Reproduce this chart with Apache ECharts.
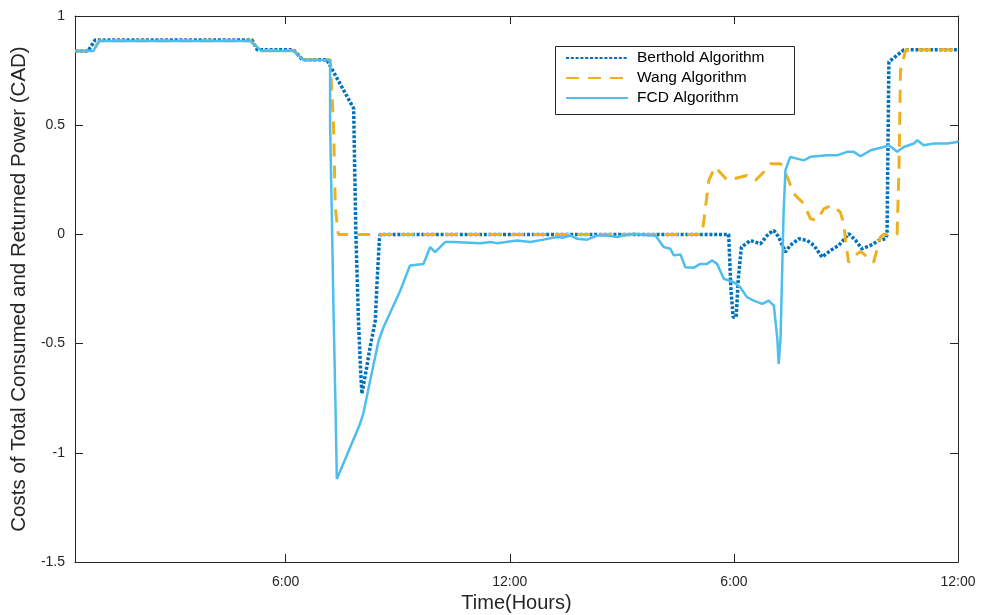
<!DOCTYPE html>
<html><head><meta charset="utf-8">
<script src="https://cdn.jsdelivr.net/npm/echarts@6/dist/echarts.min.js"></script>
<style>html,body{margin:0;padding:0;background:#fff}#c{width:984px;height:615px}</style>
</head><body><div id="c"></div>
<script>
// x in hours after 12:00 (noon), y in CAD
const seriesNames = ['Berthold Algorithm', 'Wang Algorithm', 'FCD Algorithm'];
const xTickValues = [6, 12, 18, 24];
const xTickLabels = ['6:00', '12:00', '6:00', '12:00'];
const yTickLabels = ['-1.5', '-1', '-0.5', '0', '0.5', '1'];
const xTitle = 'Time(Hours)';
const yTitle = 'Costs of Total Consumed and Returned Power (CAD)';

const berthold = [
  [0.36,0.84],[0.71,0.84],[0.9,0.89],[5.1,0.89],[5.24,0.845],[6.21,0.845],[6.45,0.80],[7.1,0.80],
  [7.82,0.577],[7.88,0.0],[7.95,-0.4],[8.0,-0.6],[8.04,-0.73],[8.17,-0.609],[8.26,-0.517],[8.4,-0.394],
  [8.44,-0.242],[8.51,-0.02],[8.53,0],[17.86,0],[17.92,-0.25],[17.98,-0.379],[18.06,-0.379],[18.12,-0.2],
  [18.2,-0.058],[18.44,-0.028],[18.71,-0.043],[18.93,0.003],[19.07,0.018],[19.2,-0.012],[19.38,-0.081],
  [19.51,-0.05],[19.74,-0.02],[19.96,-0.028],[20.14,-0.05],[20.36,-0.104],[20.59,-0.073],[20.81,-0.05],
  [21.08,0.003],[21.26,-0.028],[21.43,-0.066],[21.66,-0.05],[21.88,-0.028],[22.06,-0.02],[22.1,0],
  [22.15,0.79],[22.55,0.845],[24,0.845]
];
const wang = [
  [0.36,0.84],[0.85,0.84],[1.01,0.887],[5.05,0.887],[5.36,0.842],[6.21,0.842],[6.48,0.80],[7.19,0.80],
  [7.28,0.51],[7.33,0.12],[7.41,0],[17.15,0],[17.33,0.248],[17.5,0.309],[17.82,0.248],[18.0,0.255],
  [18.35,0.27],[18.58,0.248],[18.8,0.286],[18.98,0.324],[19.25,0.324],[19.43,0.263],[19.6,0.187],
  [19.87,0.141],[20.05,0.072],[20.23,0.064],[20.41,0.118],[20.63,0.133],[20.85,0.102],[20.94,0.049],
  [20.99,-0.028],[21.07,-0.128],[21.22,-0.1],[21.39,-0.078],[21.55,-0.1],[21.74,-0.128],[21.92,-0.014],
  [22.01,0],[22.37,0],[22.42,0.3],[22.46,0.75],[22.6,0.845],[24,0.845]
];
const fcd = [
  [0.36,0.84],[0.85,0.84],[1.01,0.885],[5.05,0.885],[5.36,0.84],[6.21,0.84],[6.48,0.798],[7.19,0.798],
  [7.19,0.5],[7.24,0.5],[7.24,0.05],[7.28,0.05],[7.28,-0.34],[7.33,-0.34],[7.33,-0.75],[7.37,-0.75],
  [7.37,-1.12],[7.99,-0.868],[8.08,-0.82],[8.26,-0.67],[8.49,-0.486],[8.62,-0.425],[9.07,-0.257],
  [9.33,-0.142],[9.69,-0.135],[9.87,-0.058],[10.0,-0.081],[10.27,-0.035],[10.49,-0.035],[11.21,-0.04],
  [11.48,-0.035],[11.66,-0.04],[12.19,-0.028],[12.55,-0.035],[12.9,-0.024],[13.26,-0.012],[13.44,-0.015],
  [13.62,-0.005],[13.8,-0.02],[14.07,-0.024],[14.34,-0.005],[14.6,-0.005],[14.87,-0.012],[15.05,-0.005],
  [15.32,0.003],[15.76,-0.005],[15.9,-0.005],[16.12,-0.058],[16.3,-0.066],[16.39,-0.096],[16.57,-0.092],
  [16.7,-0.15],[16.92,-0.153],[17.1,-0.135],[17.28,-0.135],[17.42,-0.119],[17.55,-0.135],[17.73,-0.203],
  [18.0,-0.219],[18.17,-0.242],[18.35,-0.287],[18.53,-0.303],[18.76,-0.318],[18.93,-0.303],[19.07,-0.326],
  [19.16,-0.471],[19.2,-0.593],[19.25,-0.471],[19.33,0.095],[19.38,0.294],[19.51,0.355],[19.69,0.347],
  [19.87,0.339],[20.05,0.355],[20.5,0.362],[20.76,0.362],[21.03,0.378],[21.21,0.378],[21.39,0.358],
  [21.66,0.385],[22.01,0.40],[22.15,0.408],[22.37,0.378],[22.55,0.40],[22.82,0.416],[22.91,0.431],
  [23.08,0.408],[23.35,0.416],[23.71,0.416],[23.98,0.423],[24,0.43]
];

const FONT = "'Liberation Sans', Arial, Helvetica, sans-serif";
const AX = '#262626';
const chart = echarts.init(document.getElementById('c'), null, {renderer: 'canvas'});
const labelMap = {};
xTickValues.forEach((v, i) => labelMap[v] = xTickLabels[i]);

const commonX = {
  type: 'value', min: 0.36, max: 24,
  axisLine: {show: true, onZero: false, lineStyle: {color: AX, width: 1}},
  splitLine: {show: false},
};
const commonY = {
  type: 'value', min: -1.5, max: 1, interval: 0.5,
  axisLine: {show: true, onZero: false, lineStyle: {color: AX, width: 1}},
  splitLine: {show: false},
};

chart.setOption({
  animation: false,
  backgroundColor: '#ffffff',
  grid: {left: 75, right: 26, top: 16, bottom: 53, containLabel: false, outerBoundsMode: 'none'},
  xAxis: [
    Object.assign({}, commonX, {
      position: 'bottom',
      name: xTitle, nameLocation: 'middle', nameGap: 31,
      nameTextStyle: {fontFamily: FONT, fontSize: 20, color: AX},
      axisTick: {show: true, inside: true, length: 8, customValues: xTickValues, lineStyle: {color: AX}},
      axisLabel: {show: true, customValues: xTickValues, margin: 13, fontFamily: FONT, fontSize: 14, color: AX,
        formatter: v => labelMap[v] !== undefined ? labelMap[v] : ''}
    }),
    Object.assign({}, commonX, {
      position: 'top',
      axisTick: {show: true, inside: true, length: 8, customValues: xTickValues, lineStyle: {color: AX}},
      axisLabel: {show: false}
    })
  ],
  yAxis: [
    Object.assign({}, commonY, {
      position: 'left',
      name: yTitle, nameLocation: 'middle', nameGap: 45,
      nameTextStyle: {fontFamily: FONT, fontSize: 20.5, color: AX},
      axisTick: {show: true, inside: true, length: 8, lineStyle: {color: AX}},
      axisLabel: {show: true, margin: 10, fontFamily: FONT, fontSize: 14, color: AX,
        formatter: v => { const s = String(Math.round(v * 10) / 10); return yTickLabels.includes(s) ? s : ''; }}
    }),
    Object.assign({}, commonY, {
      position: 'right',
      axisTick: {show: true, inside: true, length: 8, lineStyle: {color: AX}},
      axisLabel: {show: false}
    })
  ],
  legend: {
    orient: 'vertical', left: 565, top: 49, padding: 0,
    itemWidth: 62, itemHeight: 14, itemGap: 2,
    itemStyle: {opacity: 0},
    textStyle: {fontFamily: FONT, fontSize: 15.5, lineHeight: 18, color: '#000', padding: [0, 0, 0, 4]},
    data: seriesNames
  },
  graphic: [{
    type: 'rect', left: 553, top: 44, z: 100,
    shape: {width: 239, height: 68},
    style: {fill: 'none', stroke: AX, lineWidth: 1}
  }],
  series: [
    {name: seriesNames[0], type: 'line', data: berthold, showSymbol: false, symbol: 'none',
     lineStyle: {color: '#0072BD', width: 3.5, type: [3, 1.8], cap: 'butt'}, itemStyle: {color: '#0072BD'}, z: 2},
    {name: seriesNames[1], type: 'line', data: wang, showSymbol: false, symbol: 'none',
     lineStyle: {color: '#EDB120', width: 3, type: [13, 9], cap: 'butt'}, itemStyle: {color: '#EDB120'}, z: 3},
    {name: seriesNames[2], type: 'line', data: fcd, showSymbol: false, symbol: 'none',
     lineStyle: {color: '#4DBEEE', width: 2.5, type: 'solid'}, itemStyle: {color: '#4DBEEE'}, z: 4}
  ]
});
</script>
</body></html>
